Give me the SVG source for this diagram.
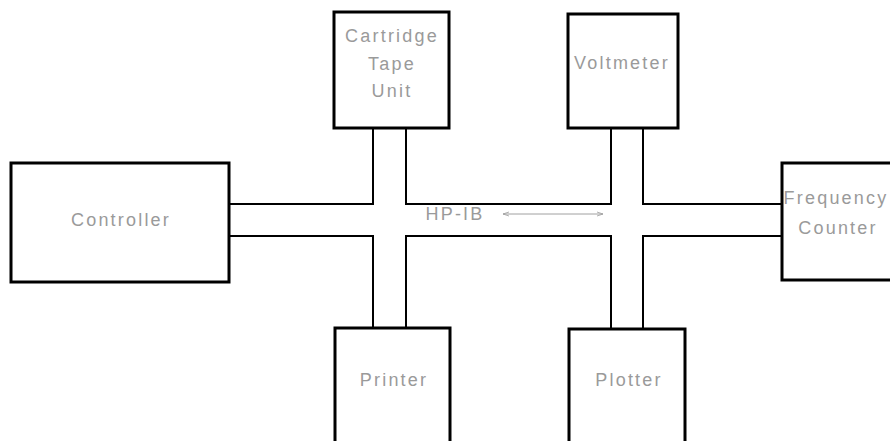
<svg xmlns="http://www.w3.org/2000/svg" width="890" height="441" viewBox="0 0 890 441">
<defs>
<style>
.box{fill:#fff;stroke:#000;stroke-width:3}
.bus{fill:none;stroke:#000;stroke-width:2}
.lbl{font-family:"Liberation Sans",Arial,sans-serif;font-size:18px;fill:#9a9a9a;letter-spacing:2.2px;text-anchor:middle}
.arr{fill:none;stroke:#a0a0a0;stroke-width:1}
</style>
<marker id="ah" viewBox="0 0 10 10" refX="9" refY="5" markerWidth="7" markerHeight="7" orient="auto-start-reverse" markerUnits="userSpaceOnUse">
<path d="M0,2 L9,5 L0,8" fill="none" stroke="#a0a0a0" stroke-width="1.2"/>
</marker>
</defs>
<rect width="890" height="441" fill="#fff"/>
<g id="connectors">
<path class="bus" d="M229,204 H373 V128 M406,128 V204 H611 V128 M643,128 V204 H782"/>
<path class="bus" d="M229,236 H373 V328 M406,328 V236 H611 V328 M643,328 V236 H782"/>
<line class="arr" x1="503" y1="214" x2="603" y2="214" marker-start="url(#ah)" marker-end="url(#ah)"/>
<text class="lbl" x="455" y="220">HP-IB</text>
</g>
<g id="controller">
<rect class="box" x="11" y="163" width="218" height="119"/>
<text class="lbl" x="121" y="226">Controller</text>
</g>
<g id="cartridge">
<rect class="box" x="334" y="12" width="115" height="116"/>
<text class="lbl" x="392" y="42">Cartridge</text>
<text class="lbl" x="392" y="70">Tape</text>
<text class="lbl" x="392" y="97">Unit</text>
</g>
<g id="voltmeter">
<rect class="box" x="568" y="14" width="110" height="114"/>
<text class="lbl" x="622" y="69">Voltmeter</text>
</g>
<g id="frequency-counter">
<rect class="box" x="782" y="163" width="115" height="117"/>
<text class="lbl" x="836" y="204">Frequency</text>
<text class="lbl" x="838" y="234">Counter</text>
</g>
<g id="printer">
<rect class="box" x="335" y="328" width="115" height="120"/>
<text class="lbl" x="394" y="386">Printer</text>
</g>
<g id="plotter">
<rect class="box" x="569" y="329" width="116" height="120"/>
<text class="lbl" x="629" y="386">Plotter</text>
</g>
</svg>
